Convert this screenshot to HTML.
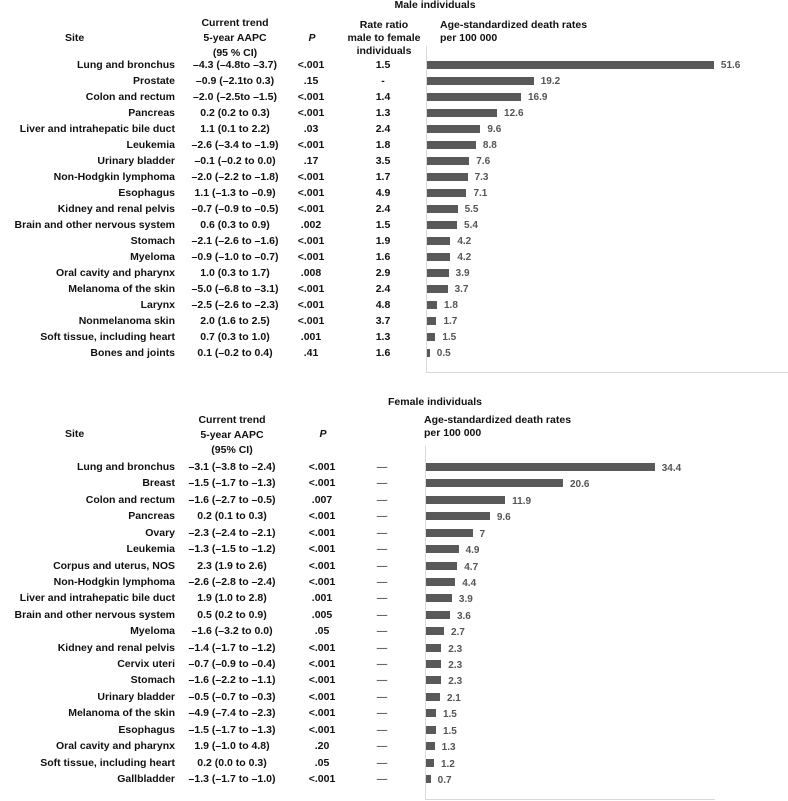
<!DOCTYPE html>
<html><head><meta charset="utf-8">
<style>
body{margin:0;background:#fff;}
#root{position:relative;width:788px;height:801px;overflow:hidden;font-family:"Liberation Sans",Arial,sans-serif;font-weight:bold;font-size:10.5px;color:#111;}
.t{position:absolute;white-space:nowrap;line-height:12px;}
.r{text-align:right;}
.c{transform:translateX(-50%);text-align:center;}
.bar{position:absolute;background:#595959;height:8px;}
.val{position:absolute;color:#555;font-size:10px;line-height:12px;white-space:nowrap;}
.ax{position:absolute;background:#d9d9d9;}
</style></head>
<body>
<div id="root">
  <div class="t c" style="left:435px;top:-1px">Male individuals</div>
  <div class="t" style="left:65px;top:32px">Site</div>
  <div class="t c" style="left:235px;top:16px;line-height:15px">Current trend<br>5-year AAPC<br>(95 % CI)</div>
  <div class="t c" style="left:312px;top:32px;font-style:italic">P</div>
  <div class="t c" style="left:384px;top:19px;line-height:13px">Rate ratio<br>male to female<br>individuals</div>
  <div class="t" style="left:440px;top:19px;line-height:13px">Age-standardized death rates<br>per 100 000</div>
  <div class="ax" style="left:426px;top:46px;width:1px;height:327px"></div>
  <div class="ax" style="left:426px;top:372px;width:362px;height:1px"></div>

  <div class="t c" style="left:435px;top:396px">Female individuals</div>
  <div class="t" style="left:65px;top:428px">Site</div>
  <div class="t c" style="left:232px;top:413px;line-height:15px">Current trend<br>5-year AAPC<br>(95% CI)</div>
  <div class="t c" style="left:323px;top:428px;font-style:italic">P</div>
  <div class="t" style="left:424px;top:414px;line-height:13px">Age-standardized death rates<br>per 100 000</div>
  <div class="ax" style="left:425px;top:446px;width:1px;height:354px"></div>
  <div class="ax" style="left:425px;top:799px;width:290px;height:1px"></div>
</div>
<script>
const maleSites=["Lung and bronchus","Prostate","Colon and rectum","Pancreas","Liver and intrahepatic bile duct","Leukemia","Urinary bladder","Non-Hodgkin lymphoma","Esophagus","Kidney and renal pelvis","Brain and other nervous system","Stomach","Myeloma","Oral cavity and pharynx","Melanoma of the skin","Larynx","Nonmelanoma skin","Soft tissue, including heart","Bones and joints"];
const maleAapc=["–4.3 (–4.8to –3.7)","–0.9 (–2.1to 0.3)","–2.0 (–2.5to –1.5)","0.2 (0.2 to 0.3)","1.1 (0.1 to 2.2)","–2.6 (–3.4 to –1.9)","–0.1 (–0.2 to 0.0)","–2.0 (–2.2 to –1.8)","1.1 (–1.3 to –0.9)","–0.7 (–0.9 to –0.5)","0.6 (0.3 to 0.9)","–2.1 (–2.6 to –1.6)","–0.9 (–1.0 to –0.7)","1.0 (0.3 to 1.7)","–5.0 (–6.8 to –3.1)","–2.5 (–2.6 to –2.3)","2.0 (1.6 to 2.5)","0.7 (0.3 to 1.0)","0.1 (–0.2 to 0.4)"];
const maleP=["<.001",".15","<.001","<.001",".03","<.001",".17","<.001","<.001","<.001",".002","<.001","<.001",".008","<.001","<.001","<.001",".001",".41"];
const maleRatio=["1.5","-","1.4","1.3","2.4","1.8","3.5","1.7","4.9","2.4","1.5","1.9","1.6","2.9","2.4","4.8","3.7","1.3","1.6"];
const maleRates=[51.6,19.2,16.9,12.6,9.6,8.8,7.6,7.3,7.1,5.5,5.4,4.2,4.2,3.9,3.7,1.8,1.7,1.5,0.5];

const femaleSites=["Lung and bronchus","Breast","Colon and rectum","Pancreas","Ovary","Leukemia","Corpus and uterus, NOS","Non-Hodgkin lymphoma","Liver and intrahepatic bile duct","Brain and other nervous system","Myeloma","Kidney and renal pelvis","Cervix uteri","Stomach","Urinary bladder","Melanoma of the skin","Esophagus","Oral cavity and pharynx","Soft tissue, including heart","Gallbladder"];
const femaleAapc=["–3.1 (–3.8 to –2.4)","–1.5 (–1.7 to –1.3)","–1.6 (–2.7 to –0.5)","0.2 (0.1 to 0.3)","–2.3 (–2.4 to –2.1)","–1.3 (–1.5 to –1.2)","2.3 (1.9 to 2.6)","–2.6 (–2.8 to –2.4)","1.9 (1.0 to 2.8)","0.5 (0.2 to 0.9)","–1.6 (–3.2 to 0.0)","–1.4 (–1.7 to –1.2)","–0.7 (–0.9 to –0.4)","–1.6 (–2.2 to –1.1)","–0.5 (–0.7 to –0.3)","–4.9 (–7.4 to –2.3)","–1.5 (–1.7 to –1.3)","1.9 (–1.0 to  4.8)","0.2 (0.0 to 0.3)","–1.3 (–1.7 to –1.0)"];
const femaleP=["<.001","<.001",".007","<.001","<.001","<.001","<.001","<.001",".001",".005",".05","<.001","<.001","<.001","<.001","<.001","<.001",".20",".05","<.001"];
const femaleRates=[34.4,20.6,11.9,9.6,7,4.9,4.7,4.4,3.9,3.6,2.7,2.3,2.3,2.3,2.1,1.5,1.5,1.3,1.2,0.7];

const root=document.getElementById('root');
function add(cls,txt,left,top,extra){
  const d=document.createElement('div');
  d.className=cls;d.textContent=txt;
  d.style.left=left+'px';d.style.top=top+'px';
  if(extra)d.style.cssText+=extra;
  root.appendChild(d);return d;
}
// male axes
const mX0=427, mScale=5.56, mY0=65, mStep=16;
const mx=v=>v*mScale, my=i=>mY0+i*mStep;
maleSites.forEach((s,i)=>{
  const y=my(i);
  let e=add('t r',s,0,y-6,'width:175px');
  
  
  e=add('t c',maleAapc[i],235,y-6);
  
  
  e=add('t c',maleP[i],311,y-6);
  
  
  e=add('t c',maleRatio[i],383,y-6);
  
  
  const w=mx(maleRates[i]);
  const b=add('bar','',mX0,y-4,'width:'+w+'px');
  
  
  const v=add('val',String(maleRates[i]),mX0+w+7,y-5);
  
  
});
// female axes
const fX0=426, fScale=6.65, fY0=467, fStep=16.42;
const fx=v=>v*fScale, fy=i=>fY0+i*fStep;
femaleSites.forEach((s,i)=>{
  const y=fy(i);
  let e=add('t r',s,0,y-6,'width:175px');
  
  
  e=add('t c',femaleAapc[i],232,y-6);
  
  
  e=add('t c',femaleP[i],322,y-6);
  
  
  e=add('t c','—',382,y-6,'font-weight:normal');
  
  
  const w=fx(femaleRates[i]);
  const b=add('bar','',fX0,y-4,'width:'+w+'px');
  
  
  const v=add('val',String(femaleRates[i]),fX0+w+7,y-4);
  
  
});
</script>
</body></html>
